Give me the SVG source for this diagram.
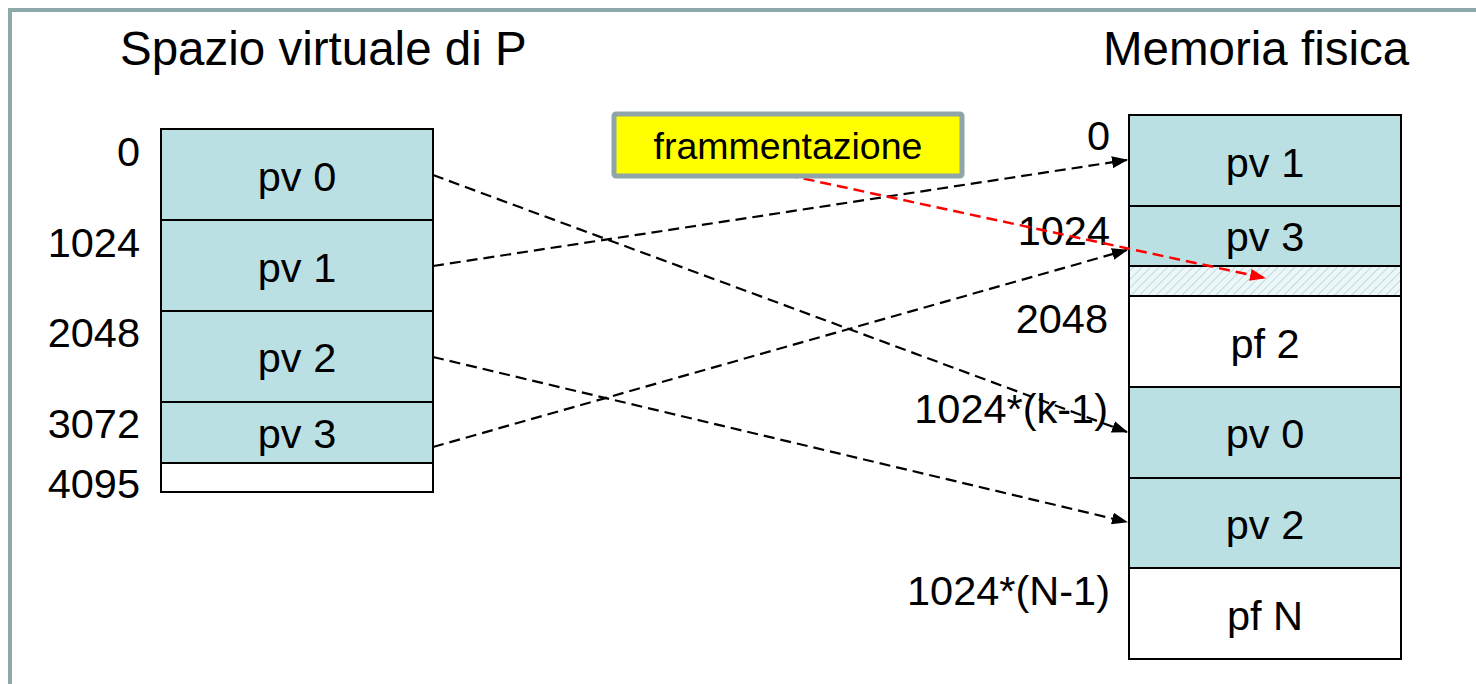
<svg xmlns="http://www.w3.org/2000/svg" width="1476" height="684" viewBox="0 0 1476 684">
<style>
text{font-family:"Liberation Sans",Arial,sans-serif;fill:#000}
.t{font-size:47.5px}
.l{font-size:41.5px}
.c{text-anchor:middle}
.r{text-anchor:end}
.pg{fill:#BBE0E3;stroke:#000;stroke-width:2}
.em{fill:#fff;stroke:#000;stroke-width:2}
.cn{fill:none;stroke:#000;stroke-width:2.2;stroke-dasharray:11 6}
.rd{fill:none;stroke:#FF0000;stroke-width:2.5;stroke-dasharray:11 6}
</style>
<defs>
<marker id="ah" markerWidth="16" markerHeight="12" refX="15" refY="6" orient="auto" markerUnits="userSpaceOnUse"><path d="M0,0 L16,6 L0,12 Z" fill="#000"/></marker>
<marker id="ahr" markerWidth="16" markerHeight="12" refX="15" refY="6" orient="auto" markerUnits="userSpaceOnUse"><path d="M0,0 L16,6 L0,12 Z" fill="#FF0000"/></marker>
<pattern id="hatch" width="6" height="6" patternUnits="userSpaceOnUse" patternTransform="rotate(45)"><rect width="6" height="6" fill="#EEF7F8"/><line x1="0" y1="0" x2="0" y2="6" stroke="#BBDCE0" stroke-width="2"/></pattern>
</defs>
<rect width="1476" height="684" fill="#fff"/>
<path d="M10,684 V10 H1476" fill="none" stroke="#8FA8AA" stroke-width="4"/>
<text class="t" x="120" y="65">Spazio virtuale di P</text>
<text class="t" x="1103" y="65">Memoria fisica</text>
<g id="virtual">
<rect class="pg" x="161" y="129" width="272" height="91"/>
<rect class="pg" x="161" y="220" width="272" height="91"/>
<rect class="pg" x="161" y="311" width="272" height="91"/>
<rect class="pg" x="161" y="402" width="272" height="61"/>
<rect class="em" x="161" y="463" width="272" height="29"/>
<text class="l c" x="297" y="191">pv 0</text>
<text class="l c" x="297" y="282">pv 1</text>
<text class="l c" x="297" y="372">pv 2</text>
<text class="l c" x="297" y="448">pv 3</text>
<text class="l r" x="140" y="166">0</text>
<text class="l r" x="140" y="257">1024</text>
<text class="l r" x="140" y="347">2048</text>
<text class="l r" x="140" y="438">3072</text>
<text class="l r" x="140" y="498">4095</text>
</g>
<g id="physical">
<rect class="pg" x="1129" y="115" width="272" height="91"/>
<rect class="pg" x="1129" y="206" width="272" height="60"/>
<rect x="1129" y="266" width="272" height="30" fill="url(#hatch)" stroke="#000" stroke-width="2"/>
<rect class="em" x="1129" y="296" width="272" height="91"/>
<rect class="pg" x="1129" y="387" width="272" height="91"/>
<rect class="pg" x="1129" y="478" width="272" height="90"/>
<rect class="em" x="1129" y="568" width="272" height="91"/>
<text class="l c" x="1265" y="177">pv 1</text>
<text class="l c" x="1265" y="251">pv 3</text>
<text class="l c" x="1265" y="358">pf 2</text>
<text class="l c" x="1265" y="448">pv 0</text>
<text class="l c" x="1265" y="539">pv 2</text>
<text class="l c" x="1265" y="630">pf N</text>
<text class="l r" x="1110" y="150">0</text>
<text class="l r" x="1110" y="245">1024</text>
<text class="l r" x="1108" y="333">2048</text>
<text class="l r" x="1108" y="423">1024*(k-1)</text>
<text class="l r" x="1110" y="605">1024*(N-1)</text>
</g>
<g id="connectors">
<line class="cn" x1="433" y1="175" x2="1127" y2="432" marker-end="url(#ah)"/>
<line class="cn" x1="433" y1="266" x2="1127" y2="160" marker-end="url(#ah)"/>
<line class="cn" x1="433" y1="357" x2="1127" y2="522" marker-end="url(#ah)"/>
<line class="cn" x1="433" y1="447" x2="1127" y2="250" marker-end="url(#ah)"/>
<line class="rd" x1="787" y1="175" x2="1265" y2="278" marker-end="url(#ahr)"/>
</g>
<g id="frammentazione">
<rect x="614" y="114" width="348" height="62" rx="2" fill="#FFFF00" stroke="#8FA5A8" stroke-width="5"/>
<text class="c" x="788" y="159" style="font-size:37.5px">frammentazione</text>
</g>
</svg>
